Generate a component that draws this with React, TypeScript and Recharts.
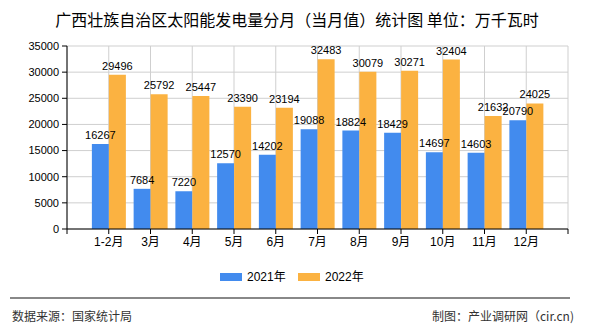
import React from 'react';
import { BarChart, Bar, XAxis, YAxis, CartesianGrid, LabelList } from 'recharts';

const months = ['1-2月', '3月', '4月', '5月', '6月', '7月', '8月', '9月', '10月', '11月', '12月'];
const output2021 = [16267, 7684, 7220, 12570, 14202, 19088, 18824, 18429, 14697, 14603, 20790];
const output2022 = [29496, 25792, 25447, 23390, 23194, 32483, 30079, 30271, 32404, 21632, 24025];
const yTicks = [0, 5000, 10000, 15000, 20000, 25000, 30000, 35000];
const xTicks = [0, 1, 2, 3, 4, 5, 6, 7, 8, 9, 10, 11, 12];

const BLUE = '#428bee';
const ORANGE = '#fbb241';

// month index 1..11 on a 0..12 numeric axis, so the plot gets one empty slot on each side
const data = months.map((m, i) => ({ idx: i + 1, month: m, y2021: output2021[i], y2022: output2022[i] }));

const legendItems = [
  { name: '2021年', color: BLUE, left: 220 },
  { name: '2022年', color: ORANGE, left: 298 },
];

export default function App() {
  return (
    <div
      style={{
        position: 'absolute',
        left: 0,
        top: 0,
        width: 590,
        height: 330,
        background: '#fff',
        overflow: 'hidden',
        fontFamily: "'Liberation Sans', 'Noto Sans CJK SC', sans-serif",
      }}
    >
      <div
        style={{
          position: 'absolute',
          left: 0,
          top: 8,
          width: 594,
          textAlign: 'center',
          fontSize: 16,
          lineHeight: '22px',
          color: '#000',
          fontFamily: "'Noto Sans CJK SC', sans-serif",
          whiteSpace: 'nowrap',
        }}
      >
        广西壮族自治区太阳能发电量分月（当月值）统计图 单位：万千瓦时
      </div>

      <div style={{ position: 'absolute', left: 0, top: 0 }}>
        <BarChart
          width={590}
          height={330}
          data={data}
          margin={{ top: 46, left: 7, right: 22, bottom: 71 }}
          barGap={0}
        >
          <CartesianGrid stroke="#cfcfcf" vertical={true} horizontal={true} />
          <XAxis
            type="number"
            dataKey="idx"
            domain={[0, 12]}
            ticks={xTicks}
            interval={0}
            height={30}
            tickSize={5}
            tickMargin={3}
            axisLine={{ stroke: '#000' }}
            tickLine={{ stroke: '#000' }}
            tick={{ fontSize: 12, fill: '#000' }}
            tickFormatter={(v: number) => months[v - 1] ?? ''}
          />
          <YAxis
            width={60}
            domain={[0, 35000]}
            ticks={yTicks}
            interval={0}
            tickSize={5}
            tickMargin={3}
            axisLine={{ stroke: '#000' }}
            tickLine={{ stroke: '#000' }}
            tick={{ fontSize: 11, fill: '#000' }}
          />
          <Bar dataKey="y2021" fill={BLUE} barSize={17} isAnimationActive={false}>
            <LabelList dataKey="y2021" position="top" offset={5} fontSize={11} fill="#000" />
          </Bar>
          <Bar dataKey="y2022" fill={ORANGE} barSize={17} isAnimationActive={false}>
            <LabelList dataKey="y2022" position="top" offset={5} fontSize={11} fill="#000" />
          </Bar>
        </BarChart>
      </div>

      {legendItems.map((item) => (
        <div key={item.name} style={{ position: 'absolute', left: item.left, top: 269, height: 16, display: 'flex', alignItems: 'center' }}>
          <span style={{ display: 'inline-block', width: 22, height: 8, background: item.color }} />
          <span style={{ marginLeft: 5, fontSize: 12, color: '#000', lineHeight: '16px' }}>{item.name}</span>
        </div>
      ))}

      <div style={{ position: 'absolute', left: 10, top: 297, width: 560, height: 2, background: '#888' }} />
      <div
        style={{
          position: 'absolute',
          left: 12,
          top: 308,
          fontSize: 12,
          lineHeight: '16px',
          color: '#333',
          fontFamily: "'Noto Sans CJK SC', sans-serif",
        }}
      >
        数据来源：国家统计局
      </div>
      <div
        style={{
          position: 'absolute',
          right: 16,
          top: 308,
          fontSize: 12,
          lineHeight: '16px',
          color: '#333',
          fontFamily: "'Noto Sans CJK SC', sans-serif",
          whiteSpace: 'nowrap',
        }}
      >
        制图：产业调研网（cir.cn)
      </div>
    </div>
  );
}
